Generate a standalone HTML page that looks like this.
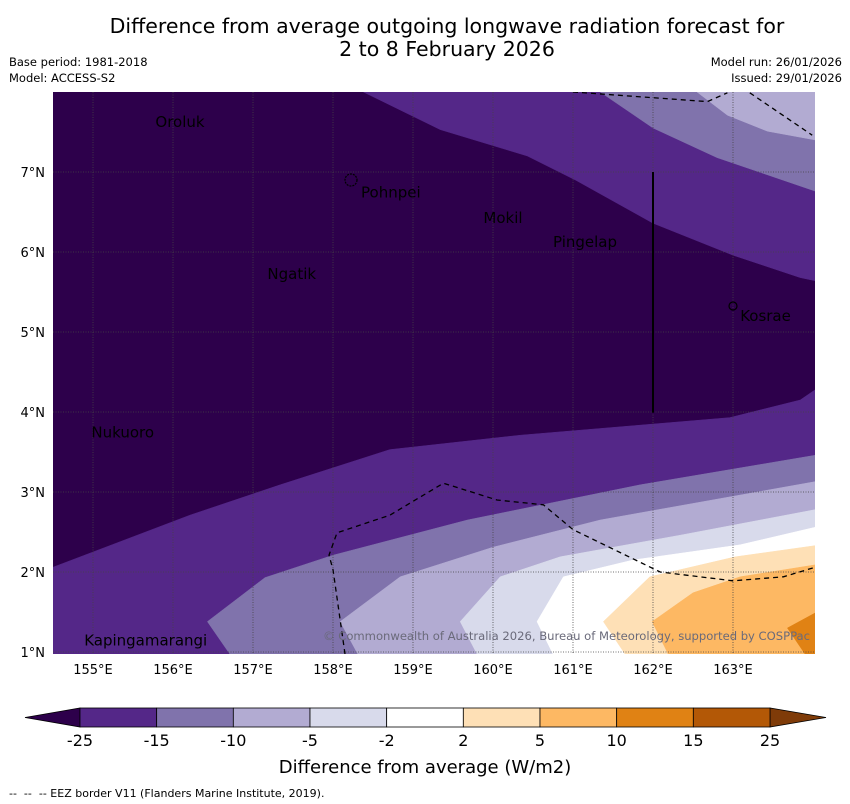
<!DOCTYPE html>
<html><head><meta charset="utf-8"><style>
body{margin:0;background:#fff;width:850px;height:804px;overflow:hidden;font-family:"Liberation Sans","DejaVu Sans",sans-serif}
svg{position:absolute;left:0;top:0}
</style></head><body>
<svg id="chart" width="850" height="804" xmlns="http://www.w3.org/2000/svg">
<text x="447" y="33" font-size="20.5" text-anchor="middle" font-family="DejaVu Sans,sans-serif">Difference from average outgoing longwave radiation forecast for</text>
<text x="447" y="56" font-size="20.5" text-anchor="middle" font-family="DejaVu Sans,sans-serif">2 to 8 February 2026</text>
<text x="9" y="66" font-size="11.5" font-family="DejaVu Sans,sans-serif">Base period: 1981-2018</text>
<text x="9" y="82" font-size="11.5" font-family="DejaVu Sans,sans-serif">Model: ACCESS-S2</text>
<text x="842" y="66" font-size="11.5" text-anchor="end" font-family="DejaVu Sans,sans-serif">Model run: 26/01/2026</text>
<text x="842" y="82" font-size="11.5" text-anchor="end" font-family="DejaVu Sans,sans-serif">Issued: 29/01/2026</text>
<defs><clipPath id="mapclip"><rect x="53" y="92" width="762" height="562"/></clipPath></defs>
<g id="map" clip-path="url(#mapclip)"></g>
<g id="overlay"></g>
<g id="cbar"></g>
<text x="425" y="773" font-size="18" text-anchor="middle" font-family="DejaVu Sans,sans-serif">Difference from average (W/m2)</text>
<text x="9" y="797" font-size="11" font-family="DejaVu Sans,sans-serif">-- &#160;-- &#160;-- EEZ border V11 (Flanders Marine Institute, 2019).</text>
</svg>
<script>
// ---- data ----
const lonTicks=[155,156,157,158,159,160,161,162,163];
const latTicks=[1,2,3,4,5,6,7];
const levels=[-25,-15,-10,-5,-2,2,5,10,15,25];
const levelColors=["#542788","#8073ac","#b2abd2","#d8daeb","#ffffff","#fee0b6","#fdb863","#e08214","#b35806"];
const bLow25=[[154.5,2.06],[156.21,2.71],[157.34,3.09],[158.71,3.53],[160.34,3.71],[162.96,3.93],[163.84,4.15],[164.03,4.28]];
const bLow15=[[156.71,0.975],[156.43,1.38],[157.15,1.93],[158.0,2.21],[159.68,2.65],[161.84,3.09],[164.03,3.46]];
const bLow10=[[158.31,0.975],[158.09,1.38],[158.84,1.94],[160.0,2.31],[161.34,2.65],[164.03,3.13]];
const bLow5=[[159.8,0.975],[159.59,1.38],[160.09,1.94],[160.84,2.19],[162.34,2.46],[164.03,2.78]];
const bLow2=[[160.75,0.975],[160.55,1.38],[160.88,1.94],[161.75,2.15],[163.09,2.34],[164.03,2.56]];
const bPos2=[[161.65,0.975],[161.38,1.38],[161.96,1.94],[163.03,2.19],[164.03,2.33]];
const bPos5=[[162.19,0.975],[161.99,1.38],[162.5,1.74],[163.09,1.94],[164.03,2.09]];
const bPos10=[[163.9,0.975],[163.68,1.3],[164.03,1.49]];
const bTop25=[[158.38,8.0],[159.34,7.53],[160.43,7.2],[161.03,6.9],[162.0,6.36],[163.0,5.96],[163.84,5.68],[164.03,5.64]];
const bTop15=[[161.34,8.0],[162.0,7.55],[162.8,7.18],[164.03,6.76]];
const bTop10=[[162.55,8.0],[162.93,7.71],[163.43,7.51],[164.03,7.4]];
const eezTopA=[[161.0,8.0],[162.68,7.88],[162.93,7.99]];
const eezTopB=[[163.21,7.99],[163.99,7.46]];
const eezSouth=[[158.15,0.975],[158.0,2.03],[157.95,2.21],[158.05,2.49],[158.71,2.71],[159.38,3.11],[160.05,2.9],[160.63,2.84],[161.0,2.53],[162.09,2.0],[163.0,1.89],[163.63,1.94],[164.03,2.06]];
const islandNames=["Oroluk","Pohnpei","Mokil","Pingelap","Ngatik","Kosrae","Nukuoro","Kapingamarangi"];
const islandLon=[155.78,158.35,159.88,160.75,157.18,163.09,154.98,154.89];
const islandLat=[7.56,6.68,6.36,6.06,5.66,5.14,3.68,1.08];
// ---- axes ----
const LON0=154.5,LON1=164.025,LAT0=0.975,LAT1=8.0;
const X0=53,X1=815,Y0=654,Y1=92;
const px=l=>X0+(l-LON0)/(LON1-LON0)*(X1-X0);
const py=l=>Y0-(l-LAT0)/(LAT1-LAT0)*(Y0-Y1);
const NS="http://www.w3.org/2000/svg";
function mk(parent,tag,attrs){const e=document.createElementNS(NS,tag);for(const k in attrs)e.setAttribute(k,attrs[k]);parent.appendChild(e);return e;}
const pts=a=>a.map(p=>px(p[0]).toFixed(1)+","+py(p[1]).toFixed(1)).join(" ");
const map=document.getElementById("map"),ov=document.getElementById("overlay");
let r=mk(map,"rect",{x:X0,y:Y1,width:X1-X0,height:Y0-Y1,fill:"#2d004b"});


function south(b,color,name){const a=b.concat([[LON1,LAT0],[b[0][0],LAT0]]);
 const e=mk(map,"polygon",{points:pts(a),fill:color,stroke:color,"stroke-width":0.5});
 
 }
function north(b,color,name){const a=b.concat([[LON1,LAT1]]);
 const e=mk(map,"polygon",{points:pts(a),fill:color,stroke:color,"stroke-width":0.5});
 
 }
south([[LON0,bLow25[0][1]]].concat(bLow25),levelColors[0],"contour-minus25-south");
south(bLow15,levelColors[1],"contour-minus15-south");
south(bLow10,levelColors[2],"contour-minus10-south");
south(bLow5,levelColors[3],"contour-minus5-south");
south(bLow2,levelColors[4],"contour-minus2-south");
south(bPos2,levelColors[5],"contour-plus2");
south(bPos5,levelColors[6],"contour-plus5");
south(bPos10,levelColors[7],"contour-plus10");
north(bTop25,levelColors[0],"contour-minus25-north");
north(bTop15,levelColors[1],"contour-minus15-north");
north(bTop10,levelColors[2],"contour-minus10-north");
lonTicks.forEach(l=>{const e=mk(map,"line",{x1:px(l),x2:px(l),y1:Y1,y2:Y0,stroke:"#444","stroke-width":0.8,"stroke-dasharray":"1,1.5"});
 
 
 const t=mk(ov,"text",{x:px(l),y:674,"font-size":13,"text-anchor":"middle","font-family":"DejaVu Sans,sans-serif"});t.textContent=l+"°E";
 
 });
latTicks.forEach(l=>{const e=mk(map,"line",{x1:X0,x2:X1,y1:py(l),y2:py(l),stroke:"#444","stroke-width":0.8,"stroke-dasharray":"1,1.5"});
 
 
 const t=mk(ov,"text",{x:45,y:py(l)+5,"font-size":13,"text-anchor":"end","font-family":"DejaVu Sans,sans-serif"});t.textContent=l+"°N";
 
 });
[eezTopA,eezTopB,eezSouth].forEach(b=>{const e=mk(map,"polyline",{points:pts(b),fill:"none",stroke:"#000","stroke-width":1.3,"stroke-dasharray":"5,4"});
 
 });
let vl=mk(map,"line",{x1:px(162),x2:px(162),y1:py(7),y2:py(3.99),stroke:"#000","stroke-width":2});


islandNames.forEach((n,i)=>{const t=mk(map,"text",{x:px(islandLon[i]),y:py(islandLat[i]),"font-size":15,"font-family":"DejaVu Sans,sans-serif",fill:"#000"});t.textContent=n;
 
 });
let ic=mk(map,"circle",{cx:351,cy:180,r:6,fill:"none",stroke:"#000","stroke-width":1.2,"stroke-dasharray":"2,1"});


let ik=mk(map,"circle",{cx:733,cy:306,r:4,fill:"none",stroke:"#000","stroke-width":1.2});


let cp=mk(map,"text",{x:810,y:640,"font-size":11.6,"text-anchor":"end",fill:"#6a6a7a","font-family":"DejaVu Sans,sans-serif",textLength:487});
cp.textContent="© Commonwealth of Australia 2026, Bureau of Meteorology, supported by COSPPac";


const cb=document.getElementById("cbar");const CB0=80,CB1=770,CBT=708,CBB=727;
const segW=(CB1-CB0)/levelColors.length;
let lt=mk(cb,"polygon",{points:`${CB0},${CBT} ${CB0},${CBB} 25,${(CBT+CBB)/2}`,fill:"#2d004b",stroke:"#000","stroke-width":0.8});


let rt=mk(cb,"polygon",{points:`${CB1},${CBT} ${CB1},${CBB} 826,${(CBT+CBB)/2}`,fill:"#7f3b08",stroke:"#000","stroke-width":0.8});


levelColors.forEach((c,i)=>{const e=mk(cb,"rect",{x:CB0+i*segW,y:CBT,width:segW,height:CBB-CBT,fill:c,stroke:"#000","stroke-width":0.8});
 
 });
levels.forEach((v,i)=>{const t=mk(cb,"text",{x:CB0+i*segW,y:746,"font-size":16,"text-anchor":"middle","font-family":"DejaVu Sans,sans-serif"});t.textContent=v;
 
 });
</script>
</body></html>
